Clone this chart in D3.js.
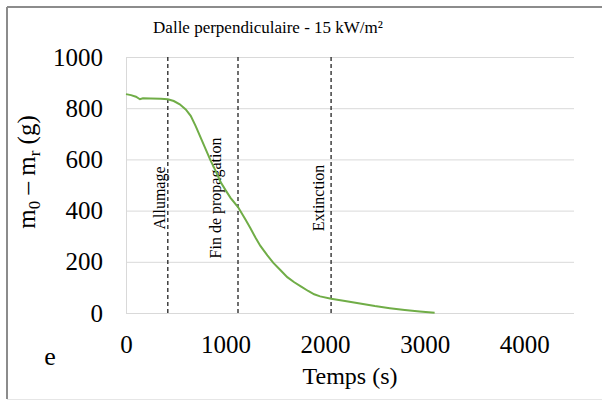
<!DOCTYPE html>
<html>
<head>
<meta charset="utf-8">
<script src="https://cdn.jsdelivr.net/npm/d3@7"></script>
<style>
  body { margin: 0; background: #fff; }
  svg { display: block; font-family: "Liberation Serif", "Times New Roman", serif; }
</style>
</head>
<body>
<svg id="chart" width="602" height="401"></svg>
<script>
// donnees
var temps = [0, 50, 100, 140, 170, 250, 350, 420, 480, 540, 600, 650, 700, 750, 800, 850, 900, 950, 1000, 1050, 1125, 1200, 1250, 1300, 1350, 1420, 1480, 1550, 1620, 1690, 1760, 1830, 1890, 1950, 2060, 2200, 2350, 2500, 2650, 2800, 2950, 3100];
var masse = [855, 851, 845, 835, 839, 838, 837, 835, 828, 815, 795, 770, 730, 685, 640, 595, 555, 512, 480, 450, 414, 365, 331, 295, 262, 225, 196, 168, 140, 120, 103, 86, 73, 65, 56, 47, 37, 27, 19, 12, 6, 1];
var evenements = ['Allumage', 'Fin de propagation', 'Extinction'];
var tempsEvenements = [420, 1125, 2060];
var xTicks = [0, 1000, 2000, 3000, 4000];
var yTicks = [0, 200, 400, 600, 800, 1000];

var margin = {top: 57, right: 28, bottom: 88, left: 126},
  width = 602 - margin.left - margin.right,
  height = 401 - margin.top - margin.bottom;

var svg = d3.select('#chart');

// cadre exterieur
svg.append('line').attr('x1', 7).attr('x2', 602).attr('y1', 7).attr('y2', 7)
  .attr('stroke', '#8c8c8c').attr('stroke-width', 2);
svg.append('line').attr('x1', 7).attr('x2', 7).attr('y1', 7).attr('y2', 399)
  .attr('stroke', '#8c8c8c').attr('stroke-width', 2);
svg.append('line').attr('x1', 7).attr('x2', 602).attr('y1', 399.5).attr('y2', 399.5)
  .attr('stroke', '#e6e6e6').attr('stroke-width', 1);

var x = d3.scaleLinear().domain([0, 4500]).range([0, width]);
var y = d3.scaleLinear().domain([0, 1000]).range([height, 0]);

var container = svg.append('g')
  .attr('transform', 'translate(' + margin.left + ',' + margin.top + ')');

// grille horizontale
container.append('g')
  .call(d3.axisLeft(y).tickValues(yTicks).tickSize(-width).tickFormat(''))
  .call(function(g) { g.select('.domain').remove(); })
  .selectAll('line').attr('stroke', '#d9d9d9');

// axe vertical (ligne grise)
container.append('line')
  .attr('x1', 0.5).attr('x2', 0.5).attr('y1', 0).attr('y2', height)
  .attr('stroke', '#d9d9d9');

// etiquettes des axes
var yAxis = container.append('g')
  .call(d3.axisLeft(y).tickValues(yTicks).tickSize(0).tickPadding(23).tickFormat(d3.format('d')));
yAxis.select('.domain').remove();
yAxis.attr('font-family', null);
yAxis.selectAll('text').attr('font-size', 25).attr('fill', '#000');

var xAxis = container.append('g')
  .attr('transform', 'translate(0,' + height + ')')
  .call(d3.axisBottom(x).tickValues(xTicks).tickSize(0).tickPadding(22).tickFormat(d3.format('d')));
xAxis.select('.domain').remove();
xAxis.attr('font-family', null);
xAxis.selectAll('text').attr('font-size', 25).attr('fill', '#000');

// lignes d'evenements
container.selectAll('.evt')
  .data(tempsEvenements)
  .enter().append('line')
  .attr('class', 'evt')
  .attr('x1', function(d) { return x(d); })
  .attr('x2', function(d) { return x(d); })
  .attr('y1', 0).attr('y2', height)
  .attr('stroke', '#222').attr('stroke-width', 1.3)
  .attr('stroke-dasharray', '4,3');

var decalage = [3, 17, 7];
container.selectAll('.evt-label')
  .data(evenements)
  .enter().append('text')
  .attr('transform', function(d, i) {
    return 'translate(' + (x(tempsEvenements[i]) - decalage[i]) + ',' + 141 + ') rotate(-90)';
  })
  .attr('text-anchor', 'middle')
  .attr('font-size', 16)
  .text(function(d) { return d; });

// courbe
var line = d3.line()
  .x(function(d, i) { return x(temps[i]); })
  .y(function(d) { return y(d); });

container.append('path')
  .datum(masse)
  .attr('fill', 'none')
  .attr('stroke', '#70ad47')
  .attr('stroke-width', 2)
  .attr('d', line);

// titres
svg.append('text')
  .attr('x', 268).attr('y', 33)
  .attr('text-anchor', 'middle')
  .attr('font-size', 17)
  .text('Dalle perpendiculaire - 15 kW/m²');

svg.append('text')
  .attr('x', margin.left + width / 2).attr('y', 384)
  .attr('text-anchor', 'middle')
  .attr('font-size', 24)
  .text('Temps (s)');

var yTitle = svg.append('text')
  .attr('transform', 'translate(35,172) rotate(-90)')
  .attr('text-anchor', 'middle')
  .attr('font-size', 25);
yTitle.append('tspan').text('m');
yTitle.append('tspan').attr('font-size', 17).attr('dy', 5).text('0');
yTitle.append('tspan').attr('dy', -5).text(' – m');
yTitle.append('tspan').attr('font-size', 17).attr('dy', 5).text('r');
yTitle.append('tspan').attr('dy', -5).text(' (g)');

svg.append('text')
  .attr('x', 50).attr('y', 365)
  .attr('text-anchor', 'middle')
  .attr('font-size', 26)
  .text('e');
</script>
</body>
</html>
